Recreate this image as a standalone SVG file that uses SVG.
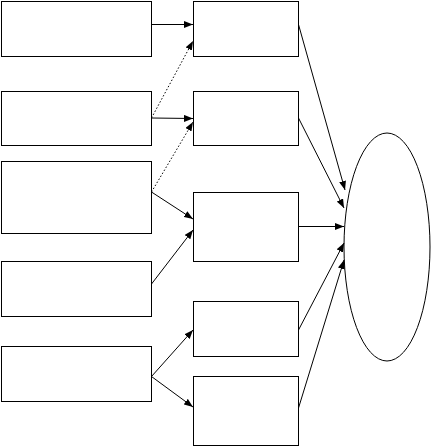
<svg xmlns="http://www.w3.org/2000/svg" width="431" height="447" viewBox="0 0 431 447">
<style>
.box{fill:#fff;stroke:#000;stroke-width:1}
.ln{fill:none;stroke:#000;stroke-width:1}
.dot{stroke-dasharray:1.5,2}
</style>
<defs>
<marker id="ah" markerWidth="9" markerHeight="7" refX="9" refY="3.5" orient="auto" markerUnits="userSpaceOnUse">
<path d="M0,0 L9,3.5 L0,7 Z" fill="#000"/>
</marker>
</defs>
<rect width="431" height="447" fill="#fff"/>
<g id="L1"><rect class="box" x="1.5" y="1.5" width="150" height="55"/></g>
<g id="L2"><rect class="box" x="1.5" y="91.5" width="150" height="54"/></g>
<g id="L3"><rect class="box" x="1.5" y="161.5" width="150" height="72"/></g>
<g id="L4"><rect class="box" x="1.5" y="261.5" width="150" height="55"/></g>
<g id="L5"><rect class="box" x="1.5" y="346.5" width="150" height="55"/></g>
<g id="M1"><rect class="box" x="193.5" y="1.5" width="105" height="55"/></g>
<g id="M2"><rect class="box" x="193.5" y="91.5" width="105" height="54"/></g>
<g id="M3"><rect class="box" x="193.5" y="192.5" width="105" height="69"/></g>
<g id="M4"><rect class="box" x="193.5" y="301.5" width="105" height="55"/></g>
<g id="M5"><rect class="box" x="193.5" y="376.5" width="105" height="69"/></g>
<g id="E"><ellipse class="box" cx="387" cy="247" rx="43" ry="114"/></g>
<g id="connectors">
<line class="ln" x1="151.5" y1="24.5" x2="193" y2="24.5" marker-end="url(#ah)"/>
<line class="ln dot" x1="151.5" y1="118" x2="193" y2="41" marker-end="url(#ah)"/>
<line class="ln" x1="151.5" y1="118" x2="193" y2="118.5" marker-end="url(#ah)"/>
<line class="ln dot" x1="151.5" y1="192" x2="193" y2="122" marker-end="url(#ah)"/>
<line class="ln" x1="151.5" y1="192" x2="193" y2="219" marker-end="url(#ah)"/>
<line class="ln" x1="151.5" y1="284" x2="193" y2="230" marker-end="url(#ah)"/>
<line class="ln" x1="151.5" y1="376.5" x2="193" y2="330" marker-end="url(#ah)"/>
<line class="ln" x1="151.5" y1="376.5" x2="193" y2="407" marker-end="url(#ah)"/>
<line class="ln" x1="298.5" y1="24.5" x2="345" y2="190" marker-end="url(#ah)"/>
<line class="ln" x1="298.5" y1="118" x2="344" y2="208" marker-end="url(#ah)"/>
<line class="ln" x1="298.5" y1="226.5" x2="344" y2="226.5" marker-end="url(#ah)"/>
<line class="ln" x1="298.5" y1="330" x2="344" y2="243" marker-end="url(#ah)"/>
<line class="ln" x1="298.5" y1="408" x2="344" y2="260" marker-end="url(#ah)"/>
</g>
</svg>
